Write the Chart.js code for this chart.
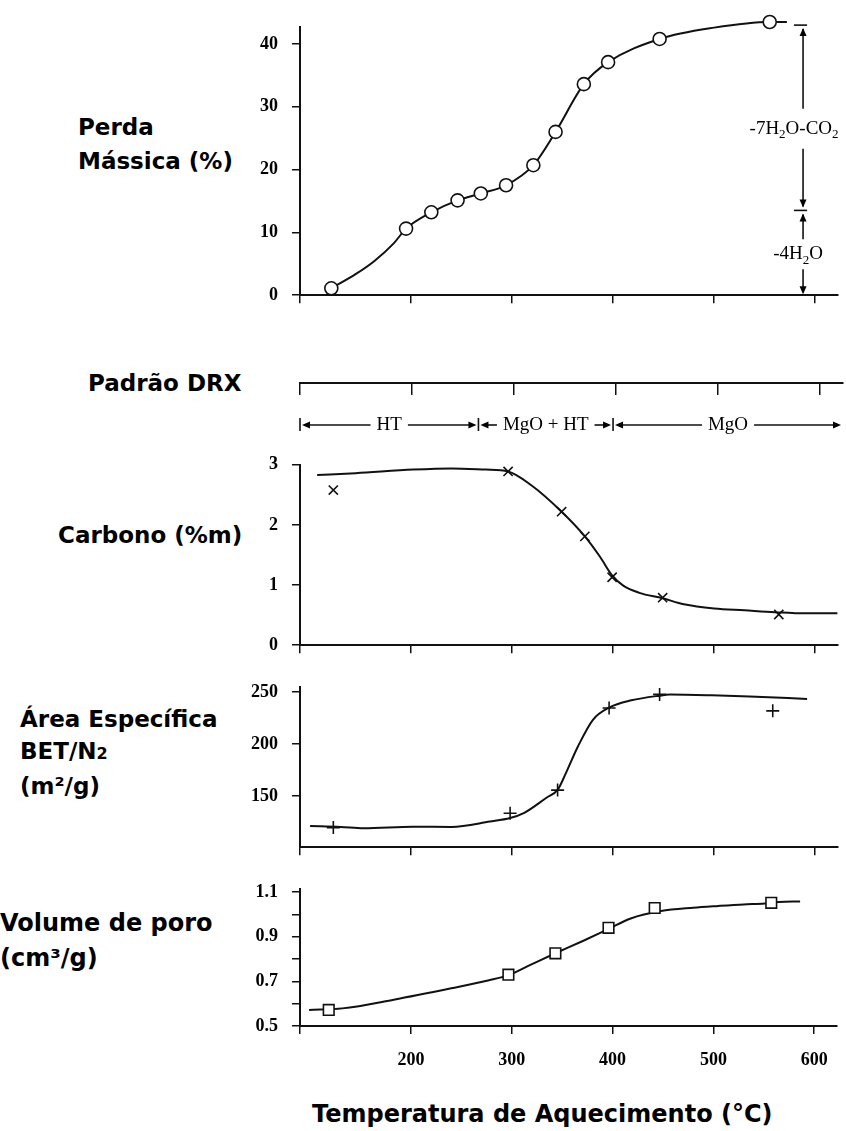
<!DOCTYPE html>
<html><head><meta charset="utf-8">
<script src="https://cdn.jsdelivr.net/npm/chart.js@4.4.0/dist/chart.umd.min.js"></script>
<style>
html,body{margin:0;padding:0;background:#fff;}
body{width:846px;height:1131px;position:relative;overflow:hidden;}
canvas{position:absolute;left:0;}
.lbl{position:absolute;font-family:"DejaVu Sans";font-weight:bold;font-size:23px;line-height:34px;color:#000;white-space:nowrap;}
</style></head><body>
<div class="lbl" style="left:78px;top:110px;">Perda<br>Mássica (%)</div>
<div class="lbl" style="left:88px;top:366px;">Padrão DRX</div>
<div class="lbl" style="left:58px;top:518px;">Carbono (%m)</div>
<div class="lbl" style="left:20px;top:703px;line-height:32px;">Área Específica<br>BET/N<span style="font-size:16px">2</span><br>(m²/g)</div>
<div class="lbl" style="left:0px;top:906px;font-size:24px;line-height:35px;">Volume de poro<br>(cm³/g)</div>
<div class="lbl" style="left:312px;top:1097px;font-size:24px;">Temperatura de Aquecimento (°C)</div>
<canvas id="c1"></canvas>
<canvas id="c2"></canvas>
<canvas id="c3"></canvas>
<canvas id="c4"></canvas>
<canvas id="c5"></canvas>
<script>
// ---------- data ----------
const X_MIN = 90, X_MAX = 622.5;
const xTicks = [200, 300, 400, 500, 600];

// Perda mássica (%)
const massTicks = [0, 10, 20, 30, 40];
const massT = [121, 195, 220, 246, 269, 294, 321, 343, 371, 395, 446, 555];
const massV = [1.1, 10.6, 13.2, 15.1, 16.2, 17.5, 20.7, 26.0, 33.6, 37.1, 40.8, 43.5];
const massCurveT = [121, 145, 164, 183, 195, 220, 246, 269, 294, 321, 343, 371, 395, 446, 500, 555, 572];
const massCurveV = [1.1, 3.35, 5.5, 8.3, 10.6, 13.2, 15.1, 16.2, 17.5, 20.7, 26.0, 33.6, 37.1, 40.8, 42.6, 43.5, 43.5];
const lossStepT = 588;
const lossDashT = [579, 592];
const lossSteps = [43, 13.5, 0];
const lossTextV = [26.5, 6.5];
const lossTexts = [[['-7H',0],['2',1],['O-CO',0],['2',1]], [['-4H',0],['2',1],['O',0]]];

// Padrão DRX
const drxBounds = [90, 265, 397];
const drxPhases = ['HT', 'MgO + HT', 'MgO'];

// Carbono (%m)
const carbTicks = [0, 1, 2, 3];
const carbT = [123, 296, 349, 372, 399, 449, 564];
const carbV = [2.58, 2.89, 2.22, 1.81, 1.13, 0.79, 0.51];
const carbCurveT = [107, 145, 202, 240, 274, 296, 319, 349, 372, 387, 399, 410, 426, 449, 470, 500, 530, 560, 590, 622];
const carbCurveV = [2.83, 2.86, 2.92, 2.94, 2.92, 2.89, 2.66, 2.22, 1.81, 1.47, 1.16, 0.99, 0.87, 0.78, 0.68, 0.61, 0.58, 0.55, 0.53, 0.53];

// Área específica BET (m2/g)
const betTicks = [150, 200, 250];
const betT = [123, 298, 345, 396, 446, 558];
const betV = [119.8, 133.6, 155.8, 234.7, 247.7, 231.9];
const betCurveT = [100, 130, 153, 202, 240, 278, 298, 312, 334, 345, 353, 365, 380, 396, 418, 446, 456, 498, 535, 592];
const betCurveV = [121.3, 120.5, 119.2, 120.7, 120.5, 125.6, 129, 134, 148.5, 156, 171.6, 197.4, 223.3, 235, 242, 246.5, 247.5, 246.8, 245.7, 243.4];

// Volume de poro (cm3/g)
const poreTicks = [0.5, 0.6, 0.7, 0.8, 0.9, 1.0, 1.1];
const poreLabels = [0.5, 0.7, 0.9, 1.1];
const poreT = [118.5, 296.7, 343.3, 396, 441.8, 557.4];
const poreV = [0.572, 0.730, 0.826, 0.940, 1.029, 1.052];
const poreCurveT = [99, 132, 183, 240, 277.5, 296.7, 319, 343.3, 370, 396, 418, 448, 480, 505, 530, 551, 565, 586];
const poreCurveV = [0.572, 0.579, 0.618, 0.669, 0.705, 0.728, 0.775, 0.826, 0.88, 0.935, 0.982, 1.015, 1.03, 1.038, 1.045, 1.049, 1.056, 1.058];

// ---------- helpers ----------
const INK = '#111';
const tickFont = {family: 'Liberation Serif', weight: 'bold', size: 18};
const pts = (xs, ys) => xs.map((x, i) => ({x: x, y: ys[i]}));

function mkX(showLabels, h, tl) {
  return {
    type: 'linear', min: X_MIN, max: X_MAX, position: 'bottom',
    afterBuildTicks: s => { s.ticks = [X_MIN].concat(xTicks).map(v => ({value: v})); },
    afterFit: s => { s.height = h; },
    grid: {drawOnChartArea: false, drawTicks: true, tickLength: tl, color: INK, lineWidth: 1.5},
    border: {display: true, color: INK, width: 2},
    ticks: {autoSkip: false, maxRotation: 0, padding: 16, color: '#000', font: tickFont,
      callback: v => (showLabels && xTicks.includes(v)) ? String(v) : ''}
  };
}
function mkY(min, max, ticks, labels, fmt) {
  return {
    type: 'linear', min: min, max: max, position: 'left',
    afterBuildTicks: s => { s.ticks = ticks.map(v => ({value: v})); },
    afterFit: s => { s.width = 300; },
    grid: {drawOnChartArea: false, drawTicks: true, tickLength: 8, color: INK, lineWidth: 1.5},
    border: {display: true, color: INK, width: 2},
    ticks: {autoSkip: false, padding: 14, color: '#000', font: tickFont,
      callback: v => labels.includes(v) ? fmt(v) : ''}
  };
}
function markerDs(data, style, r, extra) {
  return Object.assign({data: data, showLine: false, pointStyle: style, pointRadius: r, pointHoverRadius: r,
    pointBorderColor: INK, pointBackgroundColor: '#fff', pointBorderWidth: 1.6, clip: false}, extra || {});
}
function curveDs(data) {
  return {data: data, showLine: true, pointRadius: 0, pointHoverRadius: 0, borderColor: INK, borderWidth: 2,
    cubicInterpolationMode: 'monotone', clip: false};
}
function panel(id, top, height, padTop, xAxisH, xLabels, yCfg, datasets, plugins) {
  const c = document.getElementById(id);
  c.width = 846; c.height = height; c.style.top = top + 'px';
  return new Chart(c, {
    type: 'scatter', data: {datasets: datasets},
    options: {responsive: false, animation: false, events: [], devicePixelRatio: 1,
      layout: {padding: {top: padTop, right: 3, bottom: 0, left: 0}},
      plugins: {legend: {display: false}, tooltip: {enabled: false}},
      scales: {x: mkX(xLabels, xAxisH, 8), y: yCfg}},
    plugins: plugins || []
  });
}
function seg(ctx, x0, y0, x1, y1) { ctx.beginPath(); ctx.moveTo(x0, y0); ctx.lineTo(x1, y1); ctx.stroke(); }
function arrow(ctx, x, y, dir) { // tip at (x,y)
  const L = 8, W = 3.5;
  ctx.beginPath();
  if (dir === 'up') { ctx.moveTo(x, y); ctx.lineTo(x - W, y + L); ctx.lineTo(x + W, y + L); }
  if (dir === 'down') { ctx.moveTo(x, y); ctx.lineTo(x - W, y - L); ctx.lineTo(x + W, y - L); }
  if (dir === 'left') { ctx.moveTo(x, y); ctx.lineTo(x + L, y - W); ctx.lineTo(x + L, y + W); }
  if (dir === 'right') { ctx.moveTo(x, y); ctx.lineTo(x - L, y - W); ctx.lineTo(x - L, y + W); }
  ctx.closePath(); ctx.fill();
}
function richText(ctx, parts, cx, cy) {
  const fN = '19px "Liberation Serif"', fS = '13px "Liberation Serif"';
  let w = 0;
  parts.forEach(p => { ctx.font = p[1] ? fS : fN; w += ctx.measureText(p[0]).width; });
  let x = cx - w / 2;
  ctx.textBaseline = 'middle'; ctx.textAlign = 'left';
  parts.forEach(p => { ctx.font = p[1] ? fS : fN; ctx.fillText(p[0], x, cy + (p[1] ? 6 : 0)); x += ctx.measureText(p[0]).width; });
}

const lossPlugin = {
  id: 'loss',
  afterDatasetsDraw(chart) {
    const ctx = chart.ctx, x = chart.scales.x, y = chart.scales.y;
    const px = x.getPixelForValue(lossStepT);
    const yT = y.getPixelForValue(lossSteps[0]), yM = y.getPixelForValue(lossSteps[1]), yB = y.getPixelForValue(lossSteps[2]);
    const d0 = x.getPixelForValue(lossDashT[0]), d1 = x.getPixelForValue(lossDashT[1]);
    const t1 = y.getPixelForValue(lossTextV[0]), t2 = y.getPixelForValue(lossTextV[1]);
    ctx.save(); ctx.strokeStyle = INK; ctx.fillStyle = '#000'; ctx.lineWidth = 1.6;
    seg(ctx, d0, yT, d1, yT); seg(ctx, d0, yM, d1, yM);
    seg(ctx, px, yT + 4, px, t1 - 20); seg(ctx, px, t1 + 20, px, yM - 4);
    arrow(ctx, px, yT + 3, 'up'); arrow(ctx, px, yM - 3, 'down');
    seg(ctx, px, yM + 4, px, t2 - 15); seg(ctx, px, t2 + 15, px, yB - 3);
    arrow(ctx, px, yM + 3, 'up'); arrow(ctx, px, yB - 1, 'down');
    richText(ctx, lossTexts[0], px - 9, t1);
    richText(ctx, lossTexts[1], px - 5, t2);
    ctx.restore();
  }
};

const drxPlugin = {
  id: 'drx',
  afterDraw(chart) {
    const ctx = chart.ctx, x = chart.scales.x;
    const yRow = chart.chartArea.bottom + 42;
    const edges = drxBounds.concat([X_MAX]);
    ctx.save(); ctx.strokeStyle = INK; ctx.fillStyle = '#000'; ctx.lineWidth = 1.6;
    ctx.font = '19px "Liberation Serif"'; ctx.textAlign = 'center'; ctx.textBaseline = 'middle';
    drxBounds.forEach(b => { const p = x.getPixelForValue(b); seg(ctx, p, yRow - 7, p, yRow + 6); });
    for (let i = 0; i < drxPhases.length; i++) {
      const a = x.getPixelForValue(edges[i]) + 2, b = x.getPixelForValue(edges[i + 1]) - 2;
      const cx = (a + b) / 2, w = ctx.measureText(drxPhases[i]).width;
      ctx.fillText(drxPhases[i], cx, yRow);
      seg(ctx, a + 4, yRow, cx - w / 2 - 6, yRow); arrow(ctx, a, yRow, 'left');
      seg(ctx, cx + w / 2 + 6, yRow, b - 4, yRow); arrow(ctx, b, yRow, 'right');
    }
    ctx.restore();
  }
};

// ---------- panels ----------
panel('c1', 0, 320, 27, 22, false,
  mkY(0, 42.7, massTicks, massTicks, v => String(v)),
  [markerDs(pts(massT, massV), 'circle', 6.5), curveDs(pts(massCurveT, massCurveV))],
  [lossPlugin]);

(function () {
  const c = document.getElementById('c2');
  c.width = 846; c.height = 100; c.style.top = '350px';
  new Chart(c, {
    type: 'scatter', data: {datasets: []},
    options: {responsive: false, animation: false, events: [], devicePixelRatio: 1,
      layout: {padding: {top: 20, right: 3, bottom: 0, left: 300}},
      plugins: {legend: {display: false}, tooltip: {enabled: false}},
      scales: {x: mkX(false, 67, 12), y: {display: false, min: 0, max: 1}}},
    plugins: [drxPlugin]
  });
})();

panel('c3', 440, 230, 20, 18, false,
  mkY(0, 3, carbTicks, carbTicks, v => String(v)),
  [markerDs(pts(carbT, carbV), 'crossRot', 6.5), curveDs(pts(carbCurveT, carbCurveV))]);

panel('c4', 662, 210, 11, 20, false,
  mkY(101, 255, betTicks, betTicks, v => String(v)),
  [markerDs(pts(betT, betV), 'cross', 6.5), curveDs(pts(betCurveT, betCurveV))]);

panel('c5', 864, 267, 12, 105, true,
  mkY(0.5, 1.115, poreTicks, poreLabels, v => v.toFixed(1)),
  [markerDs(pts(poreT, poreV), 'rect', 7.5), curveDs(pts(poreCurveT, poreCurveV))]);
</script>
</body></html>
